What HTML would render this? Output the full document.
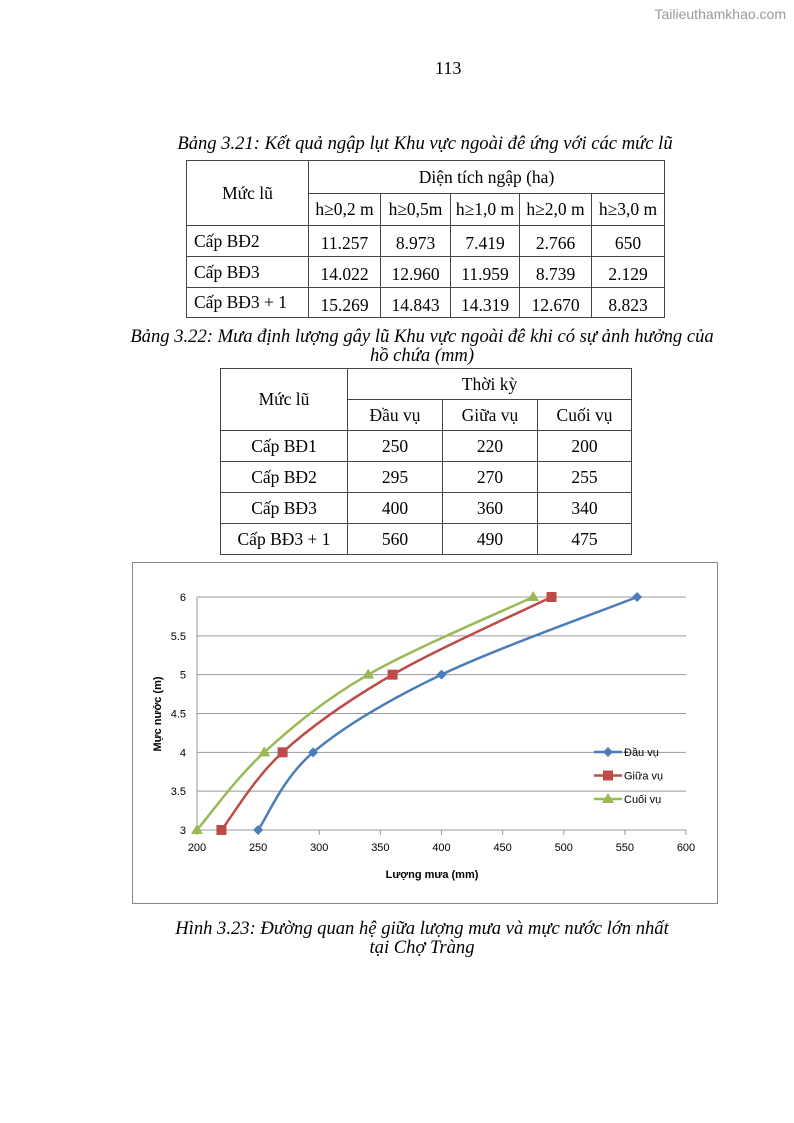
<!DOCTYPE html>
<html><head><meta charset="utf-8"><style>
body{margin:0;width:794px;height:1123px;background:#fff;position:relative;font-family:"Liberation Serif",serif;color:#000;overflow:hidden}
.a{position:absolute}
.cap{position:absolute;left:0;width:794px;text-align:center;font-style:italic;font-size:18.6px;line-height:19px}
table{position:absolute;border-collapse:collapse;font-size:17.5px}
td{border:1px solid #444;text-align:center;padding:0}
.l{text-align:left;padding-left:7px}
.d td{padding-top:5px}
</style></head><body>
<div class="a" style="right:8px;top:6px;font-family:'Liberation Sans',sans-serif;font-size:14px;color:#999">Tailieuthamkhao.com</div>
<div class="a" style="left:435px;top:58px;font-size:18px">113</div>
<div class="cap" style="top:134px;left:28px">Bảng 3.21: Kết quả ngập lụt Khu vực ngoài đê ứng với các mức lũ</div>
<table style="left:186px;top:160px;width:479px">
<tr style="height:33px"><td rowspan="2" style="width:121px">Mức lũ</td><td colspan="5">Diện tích ngập (ha)</td></tr>
<tr style="height:32px"><td style="width:71px">h≥0,2 m</td><td style="width:69px">h≥0,5m</td><td style="width:68px">h≥1,0 m</td><td style="width:71px">h≥2,0 m</td><td>h≥3,0 m</td></tr>
<tr class="d" style="height:31px"><td class="l" style="padding-top:0">Cấp BĐ2</td><td>11.257</td><td>8.973</td><td>7.419</td><td>2.766</td><td>650</td></tr>
<tr class="d" style="height:31px"><td class="l" style="padding-top:0">Cấp BĐ3</td><td>14.022</td><td>12.960</td><td>11.959</td><td>8.739</td><td>2.129</td></tr>
<tr class="d" style="height:30px"><td class="l" style="padding-top:0">Cấp BĐ3 + 1</td><td>15.269</td><td>14.843</td><td>14.319</td><td>12.670</td><td>8.823</td></tr>
</table>
<div class="cap" style="top:327px;left:25px">Bảng 3.22: Mưa định lượng gây lũ Khu vực ngoài đê khi có sự ảnh hưởng của<br>hồ chứa (mm)</div>
<table style="left:220px;top:368px;width:412px">
<tr style="height:31px"><td rowspan="2" style="width:126px">Mức lũ</td><td colspan="3">Thời kỳ</td></tr>
<tr style="height:31px"><td style="width:94px">Đầu vụ</td><td style="width:94px">Giữa vụ</td><td>Cuối vụ</td></tr>
<tr style="height:31px"><td>Cấp BĐ1</td><td>250</td><td>220</td><td>200</td></tr>
<tr style="height:31px"><td>Cấp BĐ2</td><td>295</td><td>270</td><td>255</td></tr>
<tr style="height:31px"><td>Cấp BĐ3</td><td>400</td><td>360</td><td>340</td></tr>
<tr style="height:31px"><td>Cấp BĐ3 + 1</td><td>560</td><td>490</td><td>475</td></tr>
</table>
<svg class="a" style="left:0;top:0" width="794" height="1123" id="ch"></svg>
<div class="cap" style="top:919px;left:25px">Hình 3.23: Đường quan hệ giữa lượng mưa và mực nước lớn nhất<br>tại Chợ Tràng</div>
<script>
const xTicks=[200,250,300,350,400,450,500,550,600];
const yTicks=[3,3.5,4,4.5,5,5.5,6];
const levels=[3,4,5,6];
const dauVu=[250,295,400,560];
const giuaVu=[220,270,360,490];
const cuoiVu=[200,255,340,475];
const seriesNames=["Đầu vụ","Giữa vụ","Cuối vụ"];
const NS="http://www.w3.org/2000/svg";
const svg=document.getElementById('ch');
const X=v=>197+(v-200)*(686-197)/400;
const Y=v=>830-(v-3)*(830-597)/3;
function mk(t,a,txt){const e=document.createElementNS(NS,t);for(const k in a)e.setAttribute(k,a[k]);if(txt!==undefined)e.textContent=txt;svg.appendChild(e);return e;}
const fr=mk('rect',{x:132.5,y:562.5,width:585,height:341,fill:'#fff',stroke:'#888'});


yTicks.forEach(t=>{const g=mk('line',{x1:197,x2:686,y1:Y(t),y2:Y(t),stroke:'#999','stroke-width':1});


const l=mk('text',{x:186,y:Y(t)+4,'text-anchor':'end','font-family':'Liberation Sans,sans-serif','font-size':11},String(t));

});
mk('line',{x1:197,x2:197,y1:597,y2:830,stroke:'#999'});
xTicks.forEach(t=>{mk('line',{x1:X(t),x2:X(t),y1:830,y2:835,stroke:'#999'});
const l=mk('text',{x:X(t),y:851,'text-anchor':'middle','font-family':'Liberation Sans,sans-serif','font-size':11},String(t));

});
const xt=mk('text',{x:432,y:878,'text-anchor':'middle','font-family':'Liberation Sans,sans-serif','font-size':11,'font-weight':'bold'},'Lượng mưa (mm)');


const yt=mk('text',{x:0,y:0,transform:'translate(161,714) rotate(-90)','text-anchor':'middle','font-family':'Liberation Sans,sans-serif','font-size':11,'font-weight':'bold'},'Mực nước (m)');


function spline(p){let d=`M${p[0][0]},${p[0][1]}`;for(let i=0;i<p.length-1;i++){const p0=p[i-1]||p[i],p1=p[i],p2=p[i+1],p3=p[i+2]||p2;const t=0.5/3;
d+=` C${p1[0]+(p2[0]-p0[0])*t},${p1[1]+(p2[1]-p0[1])*t} ${p2[0]-(p3[0]-p1[0])*t},${p2[1]-(p3[1]-p1[1])*t} ${p2[0]},${p2[1]}`;}return d;}
function marker(type,x,y,c){let e;
if(type==0)e=mk('polygon',{points:`${x},${y-5} ${x+5},${y} ${x},${y+5} ${x-5},${y}`,fill:c});
else if(type==1)e=mk('rect',{x:x-5,y:y-5,width:10,height:10,fill:c});
else e=mk('polygon',{points:`${x},${y-6} ${x+6},${y+4} ${x-6},${y+4}`,fill:c});return e;}
const colors=['#4a7ebb','#be4b48','#98b954'];
[dauVu,giuaVu,cuoiVu].forEach((s,si)=>{const pts=s.map((v,i)=>[X(v),Y(levels[i])]);
const p=mk('path',{d:spline(pts),fill:'none',stroke:colors[si],'stroke-width':2.5});


pts.forEach(q=>{const m=marker(si,q[0],q[1],colors[si]);

});
const ly=752+si*23.5;
mk('line',{x1:594,x2:622,y1:ly,y2:ly,stroke:colors[si],'stroke-width':2.5});
marker(si,608,ly,colors[si]);
const lt=mk('text',{x:624,y:ly+4,'font-family':'Liberation Sans,sans-serif','font-size':11},seriesNames[si]);

});
</script>
</body></html>
